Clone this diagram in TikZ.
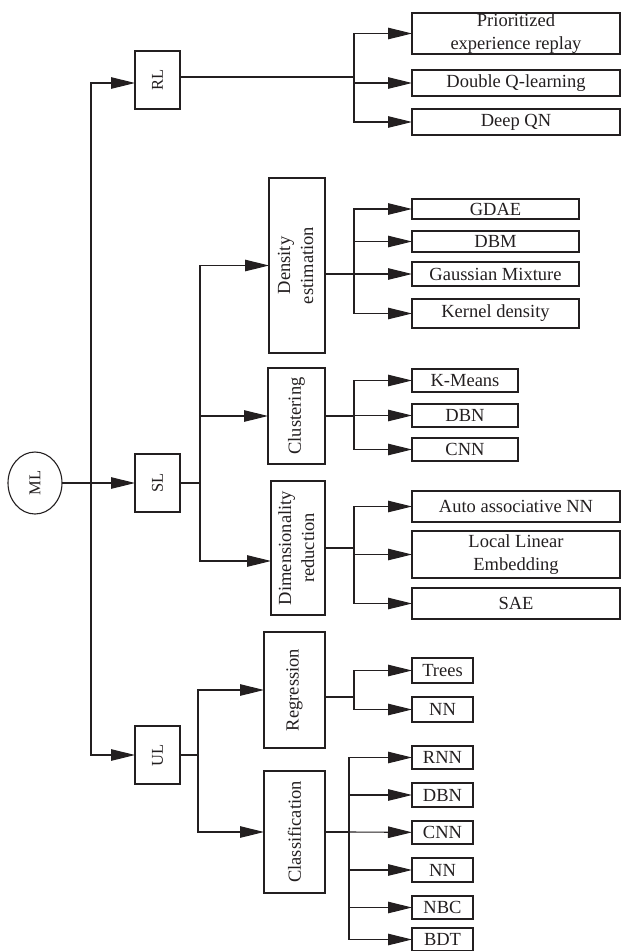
\documentclass[tikz,border=0pt]{standalone}
\usepackage{fontspec}
\setmainfont{Liberation Serif}
\usetikzlibrary{arrows.meta,shapes.geometric}
\definecolor{ink}{RGB}{35,31,32}
\begin{document}
\begin{tikzpicture}[x=1pt,y=-1pt,
  every node/.style={inner sep=0pt, outer sep=0pt, text=ink},
  box/.style={draw=ink, line width=1.1pt, rectangle, font=\fontsize{18.5}{23}\selectfont, align=center},
  smalltext/.style={font=\fontsize{16.5}{20}\selectfont},
  conn/.style={draw=ink, line width=1.1pt},
  arr/.style={conn, -{Triangle[length=24pt,width=11.5pt]}}
]
\useasboundingbox (0,0) rectangle (621,951);

% root and level 1
\node[draw=ink, line width=1.1pt, ellipse, minimum width=54pt, minimum height=62pt, smalltext] (ml) at (35,483) {\rotatebox{90}{ML}};
\node[box, smalltext, minimum width=45pt, minimum height=58pt] (rl) at (157.5,80) {\rotatebox{90}{RL}};
\node[box, smalltext, minimum width=45pt, minimum height=58pt] (sl) at (157.5,483) {\rotatebox{90}{SL}};
\node[box, smalltext, minimum width=45pt, minimum height=58pt] (ul) at (157.5,755) {\rotatebox{90}{UL}};

% level 2
\node[box, minimum width=56pt, minimum height=175pt] (dens) at (297,265.5) {\rotatebox{90}{\begin{tabular}{@{}c@{}}Density\\estimation\end{tabular}}};
\node[box, minimum width=57pt, minimum height=96pt] (clus) at (296.5,416) {\rotatebox{90}{Clustering}};
\node[box, minimum width=54pt, minimum height=134pt] (dim) at (298,548) {\rotatebox{90}{\begin{tabular}{@{}c@{}}Dimensionality\\reduction\end{tabular}}};
\node[box, minimum width=61pt, minimum height=116pt] (reg) at (294.5,690) {\rotatebox{90}{Regression}};
\node[box, minimum width=61pt, minimum height=122pt] (cls) at (294.5,832) {\rotatebox{90}{Classification}};

% leaves
\node[box, minimum width=208pt, minimum height=41pt] (pri) at (516,33.5) {Prioritized\\experience replay};
\node[box, minimum width=208pt, minimum height=26pt] (dq) at (516,83) {Double Q-learning};
\node[box, minimum width=208pt, minimum height=26pt] (dqn) at (516,122) {Deep QN};

\node[box, minimum width=167pt, minimum height=20pt] (gdae) at (495.5,209) {GDAE};
\node[box, minimum width=167pt, minimum height=21pt] (dbm) at (495.5,241.5) {DBM};
\node[box, minimum width=167pt, minimum height=24pt] (gm) at (495.5,274) {Gaussian Mixture};
\node[box, minimum width=167pt, minimum height=29pt] (kd) at (495.5,313.5) {Kernel density};

\node[box, minimum width=106pt, minimum height=23pt] (km) at (465,380.5) {K-Means};
\node[box, minimum width=106pt, minimum height=23pt] (dbna) at (465,415.5) {DBN};
\node[box, minimum width=106pt, minimum height=23pt] (cnna) at (465,449.5) {CNN};

\node[box, minimum width=208pt, minimum height=31pt] (aan) at (516,506.5) {Auto associative NN};
\node[box, minimum width=208pt, minimum height=47pt] (lle) at (516,554.5) {Local Linear\\Embedding};
\node[box, minimum width=208pt, minimum height=31pt] (sae) at (516,603.5) {SAE};

\node[box, minimum width=61pt, minimum height=25pt] (trees) at (442.5,670.5) {Trees};
\node[box, minimum width=61pt, minimum height=25pt] (nna) at (442.5,709.5) {NN};

\node[box, minimum width=61pt, minimum height=23pt] (rnn) at (442.5,757.5) {RNN};
\node[box, minimum width=61pt, minimum height=24pt] (dbnb) at (442.5,795) {DBN};
\node[box, minimum width=61pt, minimum height=23pt] (cnnb) at (442.5,832.5) {CNN};
\node[box, minimum width=61pt, minimum height=24pt] (nnb) at (442.5,870) {NN};
\node[box, minimum width=61pt, minimum height=23pt] (nbc) at (442.5,907.5) {NBC};
\node[box, minimum width=61pt, minimum height=23pt] (bdt) at (442.5,939.5) {BDT};

% branch points
\coordinate (tt) at (91,483);
\coordinate (rb) at (354,77);
\coordinate (sb) at (200,483);
\coordinate (db) at (354,274);
\coordinate (cb) at (354,416);
\coordinate (mb) at (354,548);
\coordinate (ub) at (198,755);
\coordinate (gb) at (354,697);
\coordinate (kb) at (349,832);

% root connectors
\draw[arr] (ml) -- (sl);
\draw[arr] (tt) |- ([yshift=-3pt]rl.west);
\draw[arr] (tt) |- (ul);

% RL
\draw[conn] ([yshift=3pt]rl.east) -- (rb);
\draw[arr] (rb) |- (pri);
\draw[arr] (rb) |- (dq);
\draw[arr] (rb) |- (dqn);

% SL
\draw[conn] (sl) -- (sb);
\draw[arr] (sb) |- (dens);
\draw[arr] (sb) |- (clus);
\draw[arr] (sb) |- ([yshift=-13pt]dim.west);

\draw[conn] ([yshift=-8.5pt]dens.east) -- (db);
\draw[arr] (db) |- (gdae);
\draw[arr] (db) |- (dbm);
\draw[arr] (db) -- (gm);
\draw[arr] (db) |- (kd);

\draw[conn] (clus) -- (cb);
\draw[arr] (cb) |- (km);
\draw[arr] (cb) |- (dbna);
\draw[arr] (cb) |- (cnna);

\draw[conn] (dim) -- (mb);
\draw[arr] (mb) |- (aan);
\draw[arr] (mb) |- (lle);
\draw[arr] (mb) |- (sae);

% UL
\draw[conn] (ul) -- (ub);
\draw[arr] (ub) |- (reg);
\draw[arr] (ub) |- (cls);

\draw[conn] ([yshift=-7pt]reg.east) -- (gb);
\draw[arr] (gb) |- (trees);
\draw[arr] (gb) |- (nna);

\draw[conn] (cls) -- (kb);
\draw[arr] (kb) |- (rnn);
\draw[arr] (kb) |- (dbnb);
\draw[arr] (kb) -- (cnnb);
\draw[arr] (kb) |- (nnb);
\draw[arr] (kb) |- (nbc);
\draw[arr] (kb) |- (bdt);
\end{tikzpicture}
\end{document}
